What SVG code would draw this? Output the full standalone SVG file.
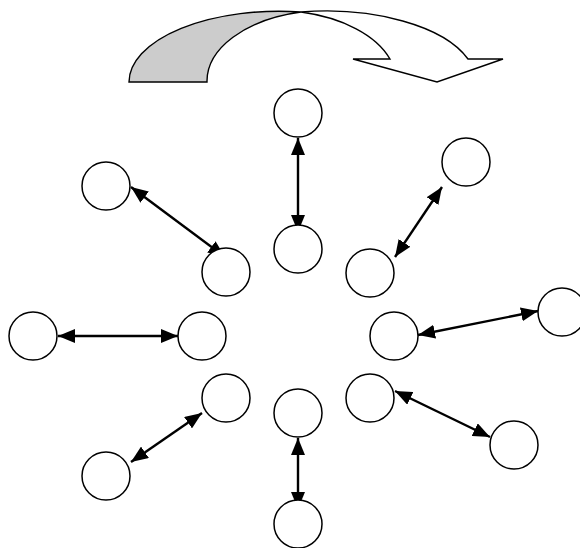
<svg xmlns="http://www.w3.org/2000/svg" width="580" height="548" viewBox="0 0 580 548">
<style>
.node circle{fill:#fff;stroke:#000;stroke-width:1.5}
.conn line{stroke:#000;stroke-width:2.4;marker-start:url(#ah);marker-end:url(#ah)}
.big{stroke:#000;stroke-width:1.4;stroke-linejoin:miter}
</style>
<defs>
<marker id="ah" markerUnits="userSpaceOnUse" markerWidth="17" markerHeight="14" refX="17" refY="7" orient="auto-start-reverse" viewBox="0 0 17 14">
<path d="M0,0 L17,7 L0,14 Z" fill="#000"/>
</marker>
</defs>
<g id="curved-arrow">
<path class="big" fill="#cccccc" d="M129,82 A150,71 0 0 1 301,12 A121,71 0 0 0 207,82 Z"/>
<path class="big" fill="#fff" d="M301,12 A150,71 0 0 1 468,59 L503,59 L437,82 L353,59 L390,59 A123,71 0 0 0 301,12 Z"/>
</g>
<g class="conn" id="connectors">
<line x1="298" y1="138" x2="298" y2="232"/>
<line x1="131" y1="187" x2="225" y2="257"/>
<line x1="442" y1="187" x2="395" y2="257"/>
<line x1="58" y1="336" x2="178" y2="336"/>
<line x1="202" y1="413" x2="131" y2="462"/>
<line x1="418" y1="335" x2="538" y2="311"/>
<line x1="395" y1="391" x2="490" y2="437"/>
<line x1="298" y1="438" x2="298" y2="509"/>
</g>
<g class="node" id="n1"><circle cx="298" cy="113" r="24"/></g>
<g class="node" id="n2"><circle cx="298" cy="249" r="24"/></g>
<g class="node" id="n3"><circle cx="106" cy="186" r="24"/></g>
<g class="node" id="n4"><circle cx="226" cy="272" r="24"/></g>
<g class="node" id="n5"><circle cx="466" cy="162" r="24"/></g>
<g class="node" id="n6"><circle cx="370" cy="273" r="24"/></g>
<g class="node" id="n7"><circle cx="33" cy="336" r="24"/></g>
<g class="node" id="n8"><circle cx="202" cy="336" r="24"/></g>
<g class="node" id="n9"><circle cx="394" cy="336" r="24"/></g>
<g class="node" id="n10"><circle cx="562" cy="312" r="24"/></g>
<g class="node" id="n11"><circle cx="226" cy="398" r="24"/></g>
<g class="node" id="n12"><circle cx="106" cy="476" r="24"/></g>
<g class="node" id="n13"><circle cx="370" cy="398" r="24"/></g>
<g class="node" id="n14"><circle cx="514" cy="445" r="24"/></g>
<g class="node" id="n15"><circle cx="298" cy="413" r="24"/></g>
<g class="node" id="n16"><circle cx="298" cy="524" r="24"/></g>
</svg>
